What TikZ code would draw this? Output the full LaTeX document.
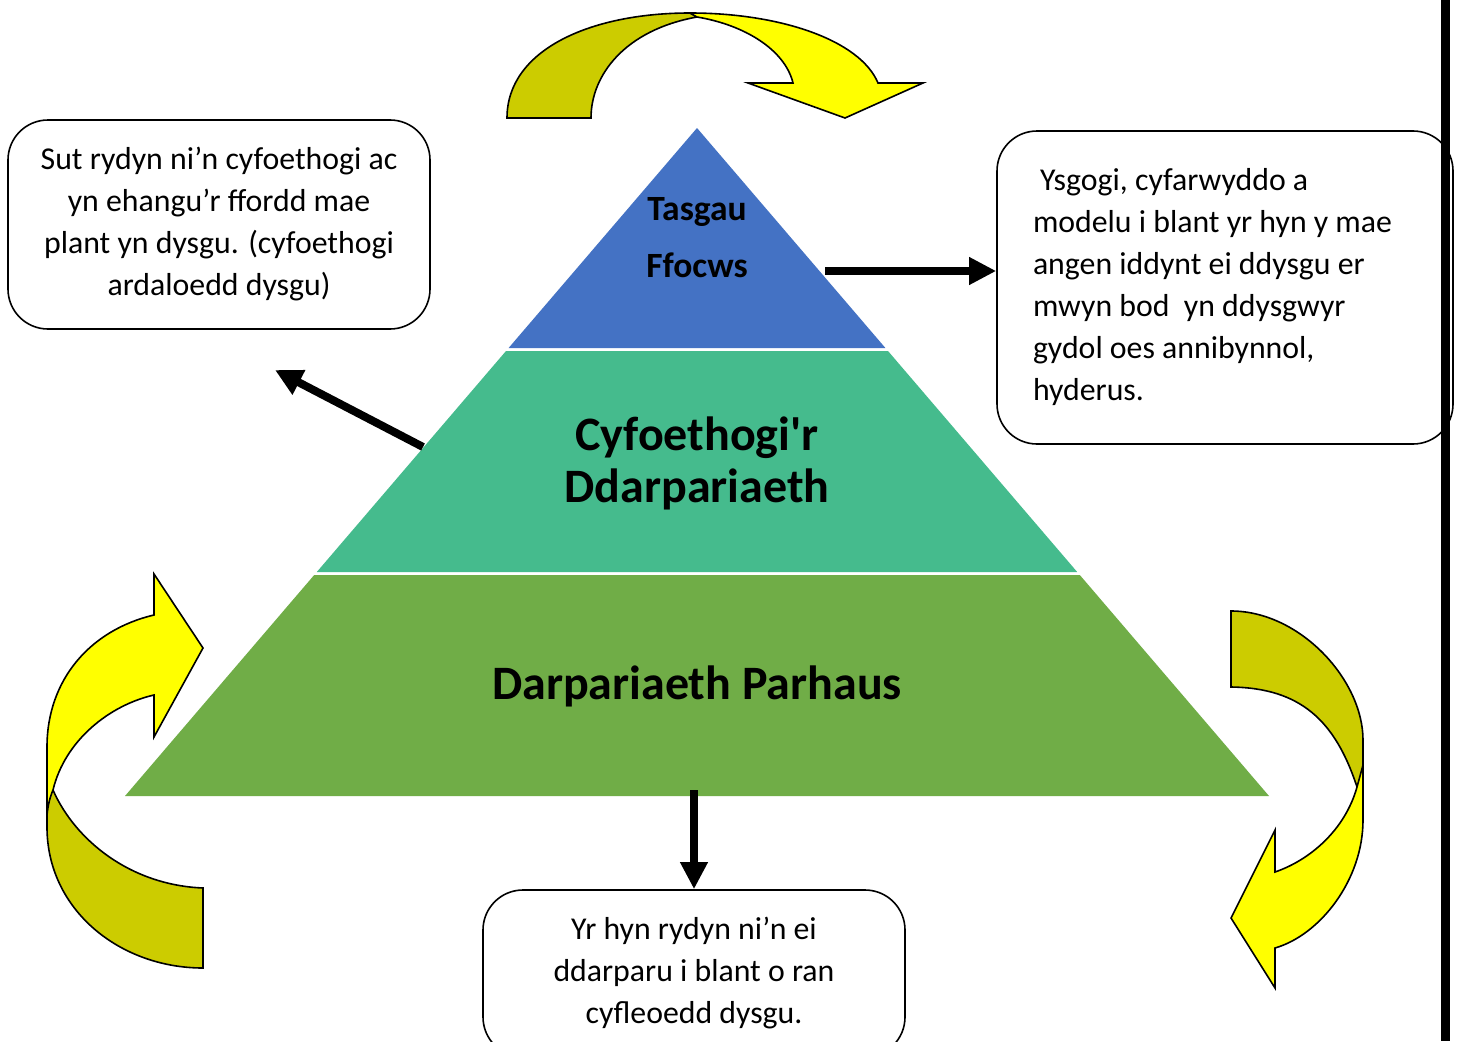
\documentclass[tikz,border=0pt]{standalone}
\usepackage{fontspec}
\setmainfont{Carlito}[Ligatures=TeXOff]
\usetikzlibrary{arrows.meta}
\definecolor{pblue}{RGB}{68,114,196}
\definecolor{pteal}{RGB}{69,187,141}
\definecolor{pgreen}{RGB}{112,173,71}
\definecolor{ayellow}{RGB}{255,255,0}
\definecolor{aolive}{RGB}{204,204,0}
\begin{document}
\begin{tikzpicture}[x=1pt,y=-1pt,
  curvearrow/.style={draw=black,line width=1.6pt,line join=miter},
  textbox/.style={draw=black,line width=1.6pt,rounded corners=40pt,fill=white,
    font=\fontsize{31.8}{42}\selectfont},
  bigarrow/.style={line width=8pt,-{Triangle[length=27pt,width=26pt]}},
  toplabel/.style={font=\bfseries\fontsize{35.5}{57}\selectfont,anchor=base},
  tierlabel/.style={font=\bfseries\fontsize{48}{53}\selectfont,anchor=base},
]
\fill[white] (0,0) rectangle (1461,1041);
\useasboundingbox (0,0) rectangle (1461,1041);

% pyramid
\fill[pblue] (697,128) -- (885.4,348) -- (508.6,348) -- cycle;
\fill[pteal] (506,351) -- (888,351) -- (1077.2,572) -- (316.8,572) -- cycle;
\fill[pgreen] (314.2,575) -- (1079.8,575) -- (1269,796) -- (125,796) -- cycle;

\node[toplabel] (tasgau) at (697,220) {Tasgau};
\node[toplabel] (ffocws) at (697,277) {Ffocws};
\node[tierlabel] (cyfo) at (697,450) {Cyfoethogi'r};
\node[tierlabel] (ddar) at (697,502) {Ddarpariaeth};
\node[tierlabel] (parh) at (697,699) {Darpariaeth Parhaus};

% top curved arrow
\path[curvearrow,fill=aolive] (507,118) .. controls (507,50) and (590,13) .. (690,13)
  -- (697,17) .. controls (625,30) and (591,75) .. (591,118) -- cycle;
\path[curvearrow,fill=ayellow] (690,13) .. controls (780,13) and (860,40) .. (878,83)
  -- (923,83) -- (845,118) -- (748,83) -- (793,83)
  .. controls (785,50) and (745,25) .. (697,17) -- cycle;

% left curved arrow
\path[curvearrow,fill=aolive] (47,780) -- (47,827) .. controls (47,910) and (120,968) .. (203,968)
  -- (203,888) .. controls (130,885) and (75,840) .. (53,790) -- cycle;
\path[curvearrow,fill=ayellow] (154,615) .. controls (90,630) and (47,680) .. (47,747)
  -- (47,815) .. controls (48,805) and (50,797) .. (53,790)
  .. controls (65,740) and (110,705) .. (154,695)
  -- (154,737) -- (203,648) -- (154,574) -- cycle;

% right curved arrow
\path[curvearrow,fill=aolive] (1231,611) .. controls (1300,611) and (1363,680) .. (1363,740)
  -- (1363,800) -- (1357,787) .. controls (1335,720) and (1300,688) .. (1231,687) -- cycle;
\path[curvearrow,fill=ayellow] (1363,765) -- (1363,820) .. controls (1363,880) and (1320,935) .. (1275,948)
  -- (1275,988) -- (1231,918) -- (1275,830) -- (1275,872)
  .. controls (1310,860) and (1345,830) .. (1357,787) -- cycle;

% boxes
\node[textbox,minimum width=422pt,minimum height=209pt,align=center] (lbox) at (219,224.5)
  {Sut rydyn ni’n cyfoethogi ac\\yn ehangu’r ffordd mae\\plant yn dysgu. (cyfoethogi\\ardaloedd dysgu)};
\node[textbox,minimum height=313pt,text width=384pt,inner xsep=36pt,align=flush left] (rbox) at (1225,287.5)
  {\hspace*{7pt}Ysgogi, cyfarwyddo a\\modelu i blant yr hyn y mae\\angen iddynt ei ddysgu er\\mwyn bod\ \ yn ddysgwyr\\gydol oes annibynnol,\\hyderus.};
\node[textbox,minimum width=422pt,minimum height=167pt,align=center] (bbox) at (694,973.5)
  {Yr hyn rydyn ni’n ei\\ddarparu i blant o ran\\cyfleoedd dysgu.};

% straight arrows
\coordinate (ra) at (825,271);
\coordinate (la) at (423,447);
\coordinate (lt) at (275,370);
\coordinate (da) at (694,790);
\draw[bigarrow] (ra) -- (ra -| rbox.west);
\draw[bigarrow] (la) -- (lt);
\draw[bigarrow] (da) -- (bbox.north);

% right border bar
\fill[black] (1441,0) rectangle (1450,1041);
\end{tikzpicture}
\end{document}
